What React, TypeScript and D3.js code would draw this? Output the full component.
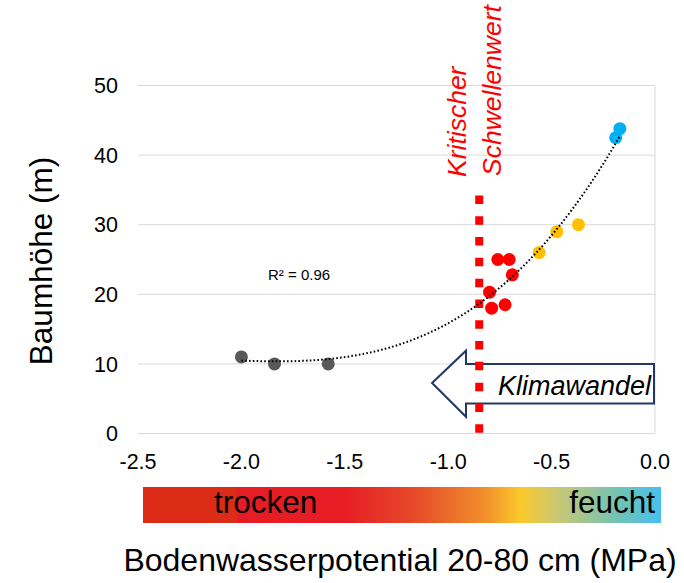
import React from "react";
import * as d3 from "d3";

// ---- data ----
const greyX = [-2.0, -1.84, -1.58];
const greyY = [11, 10, 10];
const redX = [-0.8, -0.79, -0.76, -0.705, -0.69, -0.725];
const redY = [20.3, 18.0, 25, 25, 22.8, 18.5];
const yellowX = [-0.56, -0.475, -0.37];
const yellowY = [26, 29, 30];
const blueX = [-0.19, -0.17];
const blueY = [42.5, 43.8];

const xTicks = [-2.5, -2.0, -1.5, -1.0, -0.5, 0.0];
const yTicks = [0, 10, 20, 30, 40, 50];

const thresholdX = -0.85;
const thresholdTop = 34.2;
const r2Label = "R² = 0.96";

// annotation arrow (data units)
const arrowTipX = -1.078;
const arrowHeadX = -0.914;
const arrowEndX = 0;
const arrowTipY = 7.25;
const arrowBodyTop = 10;
const arrowBodyBottom = 4.3;
const arrowHeadTop = 11.9;
const arrowHeadBottom = 2.4;

const gradientStops: [number, string][] = [
  [0, "#dc2c17"],
  [0.181, "#dc2c17"],
  [0.183, "#e61c24"],
  [0.39, "#e71e24"],
  [0.52, "#e6482a"],
  [0.66, "#f18f2a"],
  [0.73, "#fbc92c"],
  [0.8, "#c9c874"],
  [0.91, "#76c3b0"],
  [1, "#45c1ee"],
];

const FONT = "'Liberation Sans', Arial, Helvetica, sans-serif";

function cubicFit(xs: number[], ys: number[]): number[] {
  const n = 4;
  const A: number[][] = Array.from({ length: n }, () => new Array(n + 1).fill(0));
  for (let k = 0; k < xs.length; k++) {
    const p = [1, xs[k], xs[k] ** 2, xs[k] ** 3];
    for (let i = 0; i < n; i++) {
      for (let j = 0; j < n; j++) A[i][j] += p[i] * p[j];
      A[i][n] += p[i] * ys[k];
    }
  }
  for (let i = 0; i < n; i++) {
    let piv = i;
    for (let r = i + 1; r < n; r++) if (Math.abs(A[r][i]) > Math.abs(A[piv][i])) piv = r;
    [A[i], A[piv]] = [A[piv], A[i]];
    for (let r = 0; r < n; r++) {
      if (r === i) continue;
      const f = A[r][i] / A[i][i];
      for (let c = i; c <= n; c++) A[r][c] -= f * A[i][c];
    }
  }
  return A.map((row, i) => row[n] / row[i]);
}

export default function App() {
  const W = 684;
  const H = 583;
  const x = d3.scaleLinear().domain([-2.5, 0]).range([138, 655]);
  const y = d3.scaleLinear().domain([0, 50]).range([433.5, 85.5]);

  const allX = [...greyX, ...redX, ...yellowX, ...blueX];
  const allY = [...greyY, ...redY, ...yellowY, ...blueY];
  const coef = cubicFit(allX, allY);
  const xmin = d3.min(allX)!;
  const xmax = d3.max(allX)!;
  const trendPts = d3.range(0, 101).map((i) => {
    const xv = xmin + ((xmax - xmin) * i) / 100;
    return [xv, coef[0] + coef[1] * xv + coef[2] * xv * xv + coef[3] * xv ** 3] as [number, number];
  });
  const line = d3
    .line<[number, number]>()
    .x((d) => x(d[0]))
    .y((d) => y(d[1]))
    .curve(d3.curveLinear);

  const series = [
    { xs: greyX, ys: greyY, color: "#595959" },
    { xs: redX, ys: redY, color: "#ff0000" },
    { xs: yellowX, ys: yellowY, color: "#ffc000" },
    { xs: blueX, ys: blueY, color: "#00b0f0" },
  ];

  const arrowPts: [number, number][] = [
    [arrowTipX, arrowTipY],
    [arrowHeadX, arrowHeadTop],
    [arrowHeadX, arrowBodyTop],
    [arrowEndX, arrowBodyTop],
    [arrowEndX, arrowBodyBottom],
    [arrowHeadX, arrowBodyBottom],
    [arrowHeadX, arrowHeadBottom],
  ];
  const arrowPath =
    "M" + arrowPts.map((p) => `${x(p[0]) - (p[0] === arrowEndX ? 1 : 0)},${y(p[1])}`).join("L") + "Z";

  const barX0 = 143;
  const barX1 = 661;

  return (
    <svg
      width={W}
      height={H}
      style={{ position: "absolute", left: 0, top: 0, background: "#fff" }}
      fontFamily={FONT}
    >
      <defs>
        <linearGradient id="moist" x1="0" x2="1" y1="0" y2="0">
          {gradientStops.map(([o, c], i) => (
            <stop key={i} offset={o} stopColor={c} />
          ))}
        </linearGradient>
      </defs>
      <rect width={W} height={H} fill="#fff" />

      {/* gridlines */}
      {yTicks.map((t) => (
        <line key={t} x1={x(-2.5)} x2={x(0)} y1={y(t)} y2={y(t)} stroke="#d9d9d9" strokeWidth={1} />
      ))}
      <line x1={x(0)} x2={x(0)} y1={y(50)} y2={y(0)} stroke="#d9d9d9" strokeWidth={1} />

      {/* y ticks */}
      {yTicks.map((t) => (
        <text key={t} x={118} y={y(t)} dy="0.36em" textAnchor="end" fontSize={21.5} fill="#000">
          {t}
        </text>
      ))}
      {/* x ticks */}
      {xTicks.map((t) => (
        <text key={t} x={x(t)} y={469} textAnchor="middle" fontSize={21.5} fill="#000">
          {t.toFixed(1)}
        </text>
      ))}

      {/* axis titles */}
      <text transform="translate(52,261) rotate(-90)" textAnchor="middle" fontSize={31.5} fill="#000">
        Baumhöhe (m)
      </text>
      <text x={400} y={571} textAnchor="middle" fontSize={32} fill="#000">
        Bodenwasserpotential 20-80 cm (MPa)
      </text>

      {/* colour bar */}
      <rect x={barX0} y={487} width={barX1 - barX0} height={36} fill="url(#moist)" />
      <text x={214} y={513} fontSize={31.5} fill="#000">
        trocken
      </text>
      <text x={655} y={513} textAnchor="end" fontSize={31.5} fill="#000">
        feucht
      </text>

      {/* arrow */}
      <path d={arrowPath} fill="#fff" stroke="#1f3864" strokeWidth={2} strokeLinejoin="miter" />
      <text x={498} y={395} fontSize={27} fontStyle="italic" fill="#000">
        Klimawandel
      </text>

      {/* threshold */}
      <line
        x1={x(thresholdX)}
        x2={x(thresholdX)}
        y1={y(thresholdTop)}
        y2={y(0)}
        stroke="#ff0000"
        strokeWidth={8}
        strokeDasharray="8.5 12.3"
      />
      <text
        transform={`translate(466,177) rotate(-90)`}
        fontSize={26.5}
        fontStyle="italic"
        fill="#ff0000"
      >
        Kritischer
      </text>
      <text
        transform={`translate(501,176) rotate(-90)`}
        fontSize={26.5}
        fontStyle="italic"
        fill="#ff0000"
      >
        Schwellenwert
      </text>

      {/* points */}
      {series.map((s, si) =>
        s.xs.map((xv, i) => (
          <circle key={`${si}-${i}`} cx={x(xv)} cy={y(s.ys[i])} r={6.5} fill={s.color} />
        ))
      )}

      {/* trendline */}
      <path
        d={line(trendPts)!}
        fill="none"
        stroke="#000"
        strokeWidth={2}
        strokeDasharray="1.6 2.2"
      />

      <text x={268} y={280} fontSize={15} fill="#000">
        {r2Label}
      </text>
    </svg>
  );
}
